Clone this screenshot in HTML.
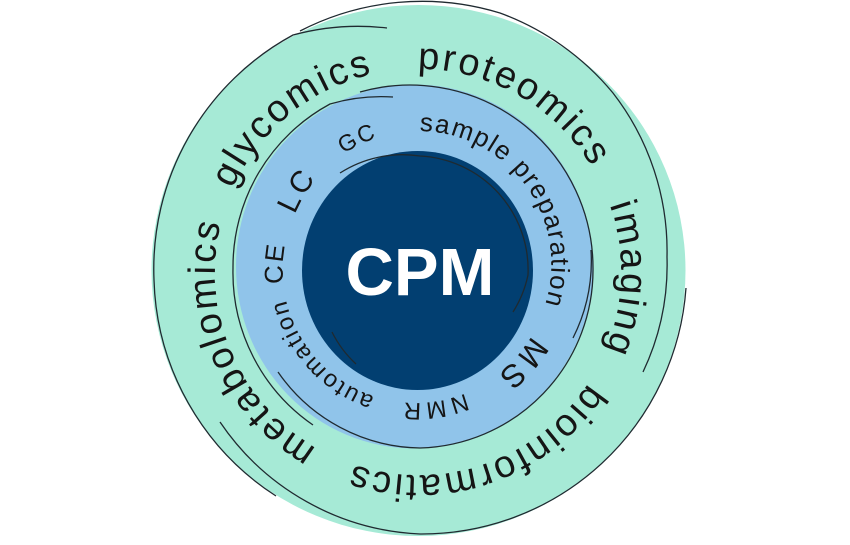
<!DOCTYPE html>
<html>
<head>
<meta charset="utf-8">
<style>
  html, body { margin: 0; padding: 0; background: #ffffff; }
  svg { display: block; }
  .o { font-family: "Liberation Sans", Arial, sans-serif; font-size: 38px; letter-spacing: 2.5px; fill: #151515; }
  .i { font-family: "Liberation Sans", Arial, sans-serif; fill: #151515; }
  .ln { fill: none; stroke: #1f2a30; stroke-width: 1.3; }
</style>
</head>
<body>
<svg width="850" height="545" viewBox="0 0 850 545" xmlns="http://www.w3.org/2000/svg">
  <defs>
    <path id="outer" d="M598.9,179.8 A203,203 0 1 1 237.1,364.2 A203,203 0 1 1 598.9,179.8"/>
    <path id="inner" d="M537.5,323.2 A133,133 0 1 1 296.5,210.8 A133,133 0 1 1 537.5,323.2"/>
  </defs>

  <rect x="0" y="0" width="850" height="545" fill="#ffffff"/>

  <!-- rings -->
  <ellipse cx="418.5" cy="270.5" rx="267" ry="265.5" fill="#a6ead6"/>
  <ellipse cx="414.5" cy="266.5" rx="178.5" ry="182" fill="#90c4ea"/>
  <ellipse cx="417.5" cy="270.5" rx="115.5" ry="119.5" fill="#023f71"/>

  <!-- outer ring lines -->
  <path class="ln" d="M276,496 A266,266 0 0 1 154,280 A266,266 0 0 1 293,35 A250,250 0 0 1 387,28"/>
  <path class="ln" d="M300,31 A266,266 0 0 1 500,13 A265,265 0 0 1 613,93 A258,258 0 0 1 667,257 A250,250 0 0 1 643,372"/>
  <path class="ln" d="M220,422 A255,255 0 0 0 420,534 A265,265 0 0 0 686,288"/>

  <!-- blue ring lines -->
  <path class="ln" d="M313,425 A185,185 0 0 1 233,268 A185,185 0 0 1 330,104 A180,180 0 0 1 393,97"/>
  <path class="ln" d="M360,92 A183,183 0 0 1 593,268 A178,178 0 0 1 420,448 A176,176 0 0 1 278,372"/>
  <path class="ln" d="M591,250 A172,172 0 0 1 573,338"/>

  <!-- dark circle lines -->
  <path class="ln" stroke="#111" d="M340,173 A116,116 0 0 1 420,156 A114,114 0 0 1 528,275 A112,112 0 0 1 513,312"/>
  <path class="ln" stroke="#111" d="M332,332 A110,110 0 0 0 356,364"/>

  <!-- outer labels -->
  <text class="o"><textPath href="#outer" startOffset="102.7" text-anchor="middle">imaging</textPath></text>
  <text class="o"><textPath href="#outer" startOffset="347.9" text-anchor="middle">bioinformatics</textPath></text>
  <text class="o"><textPath href="#outer" startOffset="652.6" text-anchor="middle">metabolomics</textPath></text>
  <text class="o"><textPath href="#outer" startOffset="913.5" text-anchor="middle">glycomics</textPath></text>
  <text class="o"><textPath href="#outer" startOffset="1157.5" text-anchor="middle">proteomics</textPath></text>

  <!-- inner labels -->
  <text class="i" font-size="26" letter-spacing="1.5"><textPath href="#inner" startOffset="704" text-anchor="middle">sample preparation</textPath></text>
  <text class="i" font-size="32" letter-spacing="4"><textPath href="#inner" startOffset="41.5" text-anchor="middle">MS</textPath></text>
  <text class="i" font-size="24" letter-spacing="4"><textPath href="#inner" startOffset="136.3" text-anchor="middle">NMR</textPath></text>
  <text class="i" font-size="24" letter-spacing="2"><textPath href="#inner" startOffset="265" text-anchor="middle">automation</textPath></text>
  <text class="i" font-size="26" letter-spacing="2"><textPath href="#inner" startOffset="369.1" text-anchor="middle">CE</textPath></text>
  <text class="i" font-size="30" letter-spacing="3"><textPath href="#inner" startOffset="442" text-anchor="middle">LC</textPath></text>
  <text class="i" font-size="23" letter-spacing="2"><textPath href="#inner" startOffset="518" text-anchor="middle">GC</textPath></text>

  <!-- center -->
  <text x="420" y="295" font-family="'Liberation Sans', Arial, sans-serif" font-size="67" font-weight="bold" fill="#ffffff" text-anchor="middle">CPM</text>
</svg>
</body>
</html>
